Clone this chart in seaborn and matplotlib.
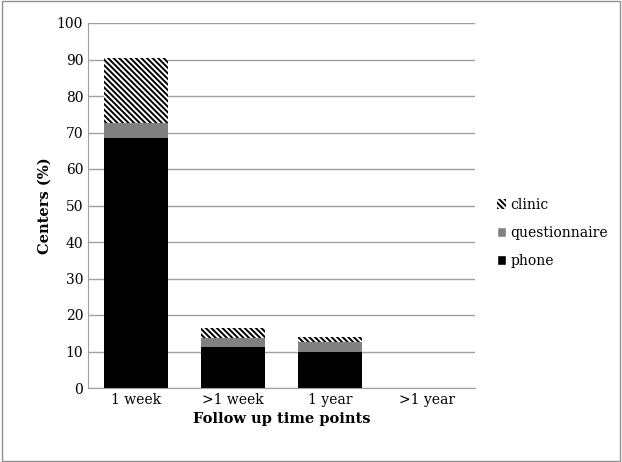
import matplotlib
matplotlib.use("Agg")
import matplotlib.pyplot as plt
import seaborn as sns
import numpy as np
import pandas as pd
from matplotlib.patches import Patch, Rectangle

categories = ["1 week", ">1 week", "1 year", ">1 year"]
phone = [68.6, 11.1, 9.9, 0.0]
questionnaire = [4.0, 2.7, 2.6, 0.0]
clinic = [17.8, 2.7, 1.4, 0.0]

sns.set_style("white")
plt.rcParams['font.family'] = ['DejaVu Serif']
plt.rcParams['hatch.linewidth'] = 1.4
plt.rcParams['text.color'] = 'black'
plt.rcParams['axes.labelcolor'] = 'black'
plt.rcParams['xtick.color'] = 'black'
plt.rcParams['ytick.color'] = 'black'

HATCH = "\\" * 6

fig = plt.figure(figsize=(6.22, 4.62), dpi=100)
ax = fig.add_axes([88/622, 1-388/462, (475-88)/622, (388-23)/462])

p = np.array(phone)
q = np.array(questionnaire)
c = np.array(clinic)
df = pd.DataFrame({"cat": categories, "total": p + q + c, "pq": p + q, "p": p})

sns.barplot(data=df, x="cat", y="total", color="white", width=0.66, ax=ax,
            edgecolor="none", saturation=1)
n = len(categories)
for patch in ax.patches[:n]:
    patch.set_hatch(HATCH)
    patch.set_edgecolor("black")
    patch.set_linewidth(0)
sns.barplot(data=df, x="cat", y="pq", color="#808080", width=0.66, ax=ax,
            edgecolor="none", saturation=1)
sns.barplot(data=df, x="cat", y="p", color="black", width=0.66, ax=ax,
            edgecolor="none", saturation=1)

ax.set_ylim(0, 100)
ax.set_yticks(range(0, 101, 10))
ax.yaxis.grid(True, color="#a0a0a0", linewidth=1)
ax.set_axisbelow(True)
for s in ["top", "right"]:
    ax.spines[s].set_visible(False)
ax.spines["left"].set_color("#a0a0a0")
ax.spines["bottom"].set_color("#a0a0a0")
ax.tick_params(axis="both", labelsize=10, length=0, colors="black")
ax.set_xlabel("Follow up time points", fontsize=10.5, fontweight="bold", color="black")
ax.set_ylabel("Centers (%)", fontsize=10.5, fontweight="bold", color="black")

handles = [Patch(facecolor="white", edgecolor="black", hatch=HATCH, linewidth=0, label="clinic"),
           Patch(facecolor="#808080", label="questionnaire"),
           Patch(facecolor="black", label="phone")]
fig.legend(handles=handles, loc="center left", bbox_to_anchor=(484/622, 1-233/462),
           frameon=False, fontsize=10, handlelength=0.7, handleheight=0.7,
           handletextpad=0.3, labelspacing=1.0)

fig.add_artist(Rectangle((0.003, 0.003), 0.994, 0.994, transform=fig.transFigure,
                         fill=False, edgecolor="#909090", linewidth=1))
fig.savefig("out.png", dpi=100)
